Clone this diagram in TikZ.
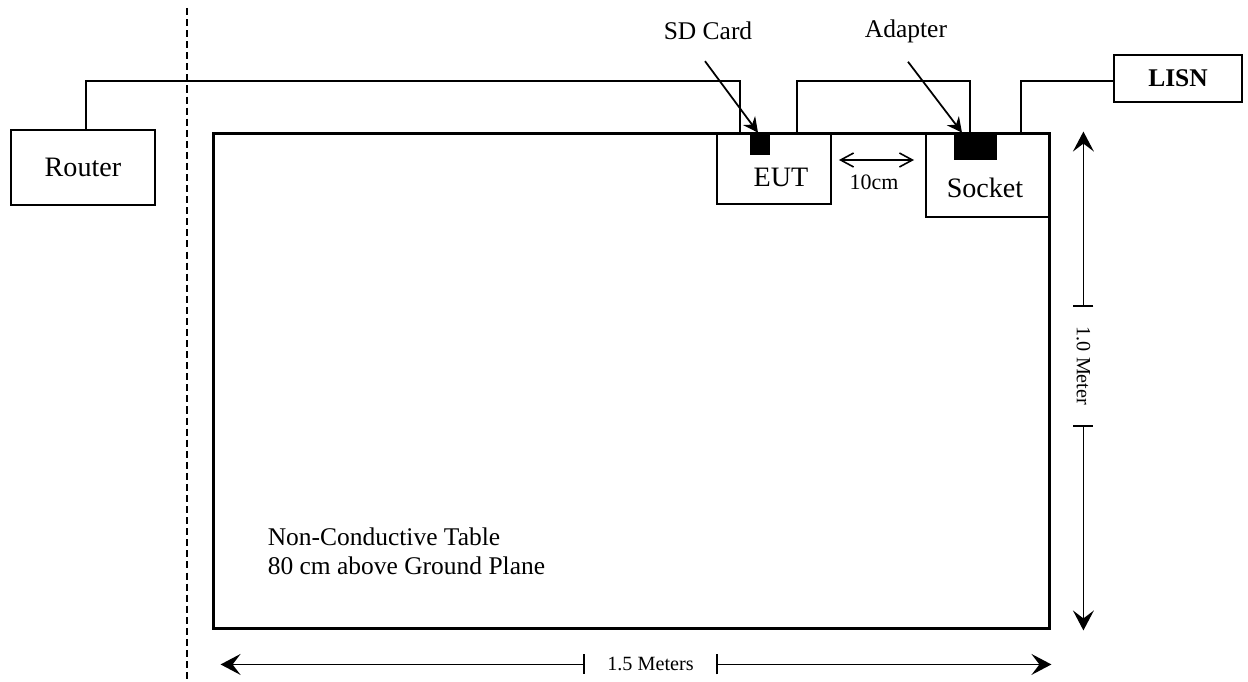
\documentclass[tikz,border=0pt]{standalone}
\usepackage{fontspec}
\setmainfont{Liberation Serif}
\usetikzlibrary{arrows.meta,calc}

\begin{document}
\begin{tikzpicture}
		[x=0.02cm,y=-0.02cm,
		box/.style={draw,line width=1.1pt,inner sep=0pt,font=\fontsize{16}{19}\selectfont},
		blk/.style={fill=black,inner sep=0pt},
		cable/.style={line width=1.1pt},
		call/.style={line width=1pt,-{Stealth[length=3mm,width=3mm,inset=1mm]}},
		txt/.style={font=\fontsize{14.5}{16.5}\selectfont},
		small/.style={font=\fontsize{11.5}{14}\selectfont},
		dim/.style={line width=0.8pt,{Bar[width=4mm]}-{Stealth[length=4mm,width=4.2mm,inset=1.6mm]}}]

		\useasboundingbox (0,0) rectangle (1248,682);

		\draw[line width=0.9pt,dash pattern=on 4pt off 2.3pt] (187,8) -- (187,682);

		\node[box,minimum width=2.88cm,minimum height=1.5cm] (router) at (83,167.5) {Router};

		\node[draw,line width=1.7pt,minimum width=16.74cm,minimum height=9.92cm] (table) at (631.5,381) {};

		\node[box,minimum width=2.28cm,minimum height=1.42cm,
			label={[font=\fontsize{16}{19}\selectfont,xshift=0.14cm,yshift=-0.17cm]center:EUT}] (eut) at (774,168.5) {};

		\node[box,minimum width=2.48cm,minimum height=1.68cm,
			label={[font=\fontsize{16}{19}\selectfont,xshift=-0.06cm,yshift=-0.26cm]center:Socket}] (socket) at (988,175) {};

		\node[blk,minimum width=0.4cm,minimum height=0.44cm] (sdcard) at (760,144) {};
		\node[blk,minimum width=0.86cm,minimum height=0.54cm] (adapter) at (975.5,146.5) {};

		\node[box,minimum width=2.56cm,minimum height=0.94cm,font=\fontsize{14.5}{17}\selectfont\bfseries] (lisn) at (1178,78.5) {LISN};

		\draw[cable] ($(router.north)+(3,0)$) -- ++(0,-48) -| ($(eut.north)+(-34,0)$);
		\draw[cable] ($(eut.north)+(23,0)$) -- ++(0,-51) -| ($(adapter.north)+(-5.5,0)$);
		\draw[cable] ($(socket.north)+(33,0)$) -- ++(0,-51) coordinate (lbend) -- (lbend -| lisn.west);

		\node[txt] (sdlbl) at (708,31) {SD Card};
		\node[txt] (adlbl) at (906,31) {Adapter};
		\draw[call] ($(sdlbl.south)+(-3,15)$) -- ($(sdcard.north)+(-2,0)$);
		\draw[call] ($(adlbl.south)+(2,13)$) -- ($(adapter.north)+(-13.5,0)$);

		\node[font=\fontsize{12.5}{15}\selectfont] (gap) at (874,182) {10cm};
		\draw[line width=0.9pt,{Straight Barb[length=2.6mm,width=2.8mm]}-{Straight Barb[length=2.6mm,width=2.8mm]}]
			($(eut.east)+(7,-8.5)$) -- ($(socket.west |- eut.east)+(-11,-8.5)$);

		\node[txt,align=left,anchor=west] (tbltxt) at ($(table.south west)+(50,-79)$) {Non-Conductive Table\\80 cm above Ground Plane};

		\node[small,rotate=-90,minimum width=2.36cm,inner sep=0pt] (dimv) at ($(table.east)+(32,-15)$) {1.0 Meter};
		\draw[dim] (dimv.west) -- (dimv.west |- table.north);
		\draw[dim] (dimv.east) -- (dimv.east |- table.south);

		\node[small,minimum width=2.62cm,inner sep=0pt] (dimh) at ($(table.south)+(19,34)$) {1.5 Meters};
		\draw[dim] (dimh.west) -- ($(dimh.west -| table.west)+(9,0)$);
		\draw[dim] (dimh.east) -- (dimh.east -| table.east);

	\end{tikzpicture}
\end{document}
